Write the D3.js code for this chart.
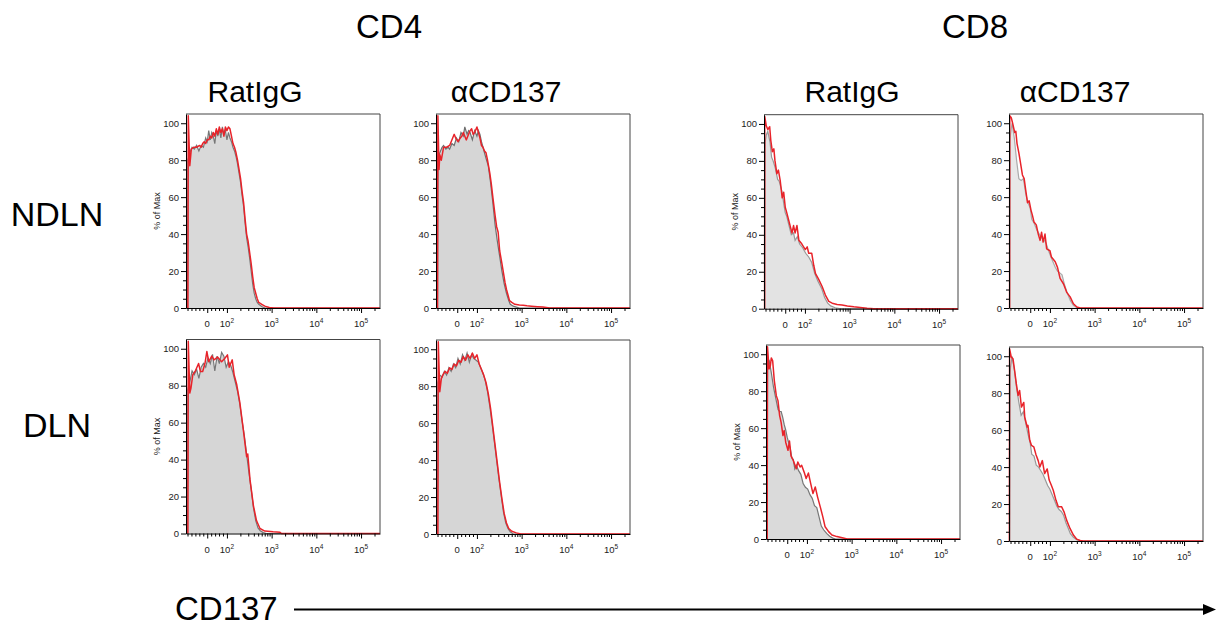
<!DOCTYPE html>
<html lang="en">
<head>
<meta charset="UTF-8">
<title>CD137 histograms</title>
<script src="https://d3js.org/d3.v7.min.js"></script>
<style>
html, body { margin: 0; padding: 0; background: white; }
body { font-family: "Liberation Sans", Arial, sans-serif; }
.big { font-size: 33px; fill: #000; }
.row { font-size: 34px; fill: #000; }
.sub { font-size: 30px; fill: #000; }
.tick text { font-size: 9.5px; fill: #222; font-family: "Liberation Sans", Arial, sans-serif; }
.xlab { font-size: 9.5px; fill: #222; }
.ylab { font-size: 9px; fill: #222; }
</style>
</head>
<body>
<div id="chart"></div>
<script>

// --------------------------------------
// Data
// --------------------------------------

const cellTypes = ["CD4", "CD8"];
const treatments = ["RatIgG", "αCD137"];
const nodes = ["NDLN", "DLN"];

// display channels (FlowJo style, 256 bins across the axis)
const channels = 256;
const yTicks = [0, 20, 40, 60, 80, 100];
const xTickChannels = [28, 54, 113, 172, 231];
const xTickLabels = [["0", ""], ["10", "2"], ["10", "3"], ["10", "4"], ["10", "5"]];

// histograms: [channel, % of max] - ctrl = grey filled, stain = red line
const cd4RatNdlnCtrl = [[2,0],[2.5,80],[5,84],[8,87],[11,86],[14,88],[17,85],[20,88],[23,87],[26,92],[28,90],[30,96],[32,91],[34,95],[36,93],[38,89],[40,96],[42,93],[44,97],[46,92],[48,98],[50,94],[52,96],[54,91],[56,95],[58,92],[60,90],[62,87],[64,85],[66,82],[68,78],[70,73],[72,68],[74,61],[76,55],[78,46],[80,38],[82,33],[84,27],[86,20],[88,13],[90,8],[92,5],[94,3],[96,2],[100,0.8],[104,0]];
const cd4RatNdlnStain = [[2.5,0],[3,104],[5,77],[7,86],[10,87],[14,87],[18,88],[20,87],[22,89],[24,90],[26,89],[28,91],[30,91],[32,93],[34,92],[36,95],[38,93],[40,97],[42,94],[44,98],[46,95],[48,97],[50,93],[52,98],[54,96],[56,98],[58,97],[60,93],[62,89],[64,87],[66,84],[68,80],[70,75],[72,70],[74,63],[76,57],[78,48],[80,40],[82,36],[84,30],[86,24],[88,17],[90,11],[92,8],[94,5],[96,3],[100,2],[104,1],[110,0.3],[116,0]];

const cd4AntiNdlnCtrl = [[2,0],[2.5,82],[5,84],[8,87],[10,88],[13,86],[16,87],[18,86],[21,89],[24,88],[27,92],[30,90],[33,95],[36,93],[38,98],[41,94],[43,96],[45,95],[48,91],[51,96],[54,93],[56,96],[58,94],[60,90],[62,87],[64,84],[66,81],[69,77],[72,68],[75,57],[78,45],[81,36],[84,28],[87,20],[90,13],[93,8],[96,4],[98,2],[102,1],[106,0.5],[110,0]];
const cd4AntiNdlnStain = [[2,0],[2.5,104],[4,75],[5,83],[7,80],[10,87],[14,87],[18,88],[20,90],[22,92],[24,94],[26,92],[29,90],[32,92],[34,93],[36,95],[38,93],[40,91],[43,94],[45,96],[47,97],[49,94],[51,95],[54,98],[56,95],[58,92],[60,88],[62,87],[64,85],[66,84],[68,80],[71,73],[73,67],[75,60],[78,50],[80,44],[82,41],[84,31],[87,24],[89,19],[91,14],[93,10],[95,7],[97,4],[100,3],[104,2],[110,1.6],[115,1.5],[120,1.2],[126,1],[134,0.7],[141,0.5],[150,0]];

const cd8RatNdlnCtrl = [[1,0],[1.5,90],[3,94],[5,96],[8,90],[10,82],[12,80],[15,76],[18,70],[20,69],[22,66],[24,63],[26,57],[28,52],[30,50],[33,45],[36,40],[39,41],[41,37],[44,39],[47,35],[51,33],[55,30],[59,28],[63,25],[67,19],[71,15],[76,11],[80,6],[84,3],[88,1.5],[94,0.5],[100,0]];
const cd8RatNdlnStain = [[0.8,0],[1,104],[3,99],[5,97],[7.5,98.5],[9,91],[11,85],[13,86.5],[14.5,80],[17,73],[19,75],[21.5,69],[24,60],[26,63],[28,55],[30,52],[32.5,48],[35,44],[37,41],[39,45],[41,41],[43.5,45],[46,37],[50,35],[54.5,32],[57,33.5],[59,30],[63,30],[65.6,23.5],[68,19],[72,16],[76.7,12],[81,7.4],[85.5,4],[90,3],[96.5,2.3],[103,2],[110,1.5],[118.5,1],[127,0.7],[136,0.3],[145,0]];

const cd8AntiNdlnCtrl = [[1,0],[1.5,90],[2,94],[4,100],[7,92],[10,80],[13,70],[16,69],[19,70],[22,62],[25,57],[28,54],[30,48],[33,46],[37,42],[40,40],[43,38],[46,37],[49,35],[53,30],[57,26],[61,22],[64,20],[67,19],[70,18],[73,13],[77,8],[81,4],[85,1.5],[89,0.3],[93,0]];
const cd8AntiNdlnStain = [[0.8,0],[1,104],[3,103],[5,99.6],[7.5,95],[9,95.6],[10.6,89],[13,84],[15,79],[17.7,72],[20,70],[22,64],[24.4,57],[26.6,58],[29,53],[31,50],[33,46.5],[36,45],[38.6,40],[41,36.6],[43,41],[45,35.7],[47.5,40],[49.7,32],[54,31],[56,27.6],[61,25],[64,22],[67.4,16],[72,13],[76,8.6],[80.7,6],[85,2.3],[89.6,0.5],[94,0]];

const cd4RatDlnCtrl = [[2,0],[2.5,78],[6,84],[8,88],[11,86],[14,89],[17,84],[20,90],[23,92],[26,90],[29,95],[32,92],[35,97],[38,88],[41,96],[44,92],[47,98],[50,96],[53,90],[56,93],[59,91],[62,87],[65,82],[68,77],[71,70],[74,61],[77,53],[80,43],[83,33],[86,24],[89,14],[92,7],[95,3],[98,1.5],[102,0.5],[106,0]];
const cd4RatDlnStain = [[2.5,0],[3,104],[5,76],[6.5,78.6],[9,86],[12,87.7],[16.6,92],[19,87.7],[22,87.7],[25,92],[27.5,98.5],[30,93],[34,96],[37,94],[41.6,95.5],[47,93],[51.6,95],[54.7,96.7],[57,90],[61,94],[63.5,86],[67,80.5],[71,71],[75.7,56],[80,41.6],[81.5,43],[84.5,29],[89,15],[93,7],[97.6,2.7],[104,1.3],[115,0.9],[124,0.7],[126,0]];

const cd4AntiDlnCtrl = [[2,0],[2.5,82],[5,86],[8,85],[11,88],[14,86],[17,90],[20,88],[23,92],[26,90],[29,95],[32,92],[35,97],[38,94],[41,98],[44,93],[47,97],[50,95],[53,94],[56,93],[59,90],[62,87],[65,83],[68,77],[71,69],[74,60],[77,50],[80,40],[83,30],[86,21],[89,12],[92,6],[95,3],[98,1.2],[102,0]];
const cd4AntiDlnStain = [[2.5,0],[3,104],[5,77],[7,84],[9,86],[12,88],[15,87],[18,90],[21,89],[24,92],[27,91],[30,94],[33,93],[36,96],[39,94],[42,97],[45,95],[48,98],[51,95],[54,97],[57,92],[60,89],[63,86],[66,82],[69,76],[72,68],[75,58],[78,48],[81,38],[84,28],[87,19],[90,11],[93,6],[96,3],[100,1.5],[106,0.6],[112,0]];

const cd8RatDlnCtrl = [[1.5,0],[2,94],[4,97],[7,90],[10,82],[13,76],[16,70],[18,69],[20,69],[22,66],[24,62],[26,59],[28,55],[30,52],[32,49],[34,44],[36,43],[38,38],[40,40],[43,37],[46,35],[49,30],[52,28],[55,27],[58,24],[61,22],[64,18],[67,17],[70,12],[73,7],[76,5],[80,3],[84,1.5],[88,0.5],[92,0]];
const cd8RatDlnStain = [[1.5,0],[2,104],[4,92],[5.7,93.7],[7,98],[8.8,96.4],[11,85.6],[13.6,77.6],[15.8,74.9],[18,66.8],[20,63],[22.4,56],[24,58.7],[26,52.4],[29,48],[31,53],[33,45],[36,42.5],[40,38],[42,41.7],[45,39],[47,39.9],[50.5,36],[53,32.7],[56,35.7],[59,30],[62,24.6],[65,28.2],[68,22.8],[71.6,17.4],[75,12],[78,6.6],[82.6,4],[87,2.2],[93.5,1.3],[102,0.5],[107,0]];

const cd8AntiDlnCtrl = [[1,0],[1.5,90],[2,94],[4,100],[7,93],[10,83],[13,75],[16,68],[19,70],[22,64],[25,58],[28,53],[30,47],[33,46],[36,41],[39,40],[42,38],[45,36],[48,33],[51,30],[54,28],[57,25],[60,22],[63,19],[66,17],[69,16],[72,14],[75,10],[78,7],[81,4],[85,2],[90,0.5],[94,0]];
const cd8AntiDlnStain = [[0.5,0],[0.8,104],[3,99.5],[5.3,98.6],[7.5,92],[9.7,85],[12,78.8],[14,81.5],[16.4,72.5],[19.5,75],[20.8,67],[24,61.7],[25,62.6],[27.4,54.5],[29.6,51.8],[32.7,51],[35.4,47],[38.5,43.5],[40.7,40],[44,43.5],[47,36.5],[50.4,39],[53,33],[56,30],[58.4,27.5],[62,22],[65,18.5],[69.5,18.5],[72.6,15.8],[76,11.3],[80.5,6.8],[85,3.2],[89.4,1],[94,0.3],[98,0]];

// --------------------------------------
// Layout
// --------------------------------------

let totalWidth = 1216;
let totalHeight = 626;
let pw = 194, ph = 194;

let panels = [
  {x: 186,  y: 114,   ctrl: cd4RatNdlnCtrl,  stain: cd4RatNdlnStain,  yTitle: true,  fill: "#d9d9d9", edge: "#777"},
  {x: 436,  y: 114,   ctrl: cd4AntiNdlnCtrl, stain: cd4AntiNdlnStain, yTitle: false, fill: "#d6d6d6", edge: "#6e6e6e"},
  {x: 764,  y: 114.7, ctrl: cd8RatNdlnCtrl,  stain: cd8RatNdlnStain,  yTitle: true,  fill: "#e3e3e3", edge: "#999"},
  {x: 1009, y: 114,   ctrl: cd8AntiNdlnCtrl, stain: cd8AntiNdlnStain, yTitle: false, fill: "#e8e8e8", edge: "#aaa"},
  {x: 186,  y: 339.5, ctrl: cd4RatDlnCtrl,   stain: cd4RatDlnStain,   yTitle: true,  fill: "#d6d6d6", edge: "#777"},
  {x: 436,  y: 340,   ctrl: cd4AntiDlnCtrl,  stain: cd4AntiDlnStain,  yTitle: false, fill: "#d6d6d6", edge: "#777"},
  {x: 766,  y: 345,   ctrl: cd8RatDlnCtrl,   stain: cd8RatDlnStain,   yTitle: true,  fill: "#dadada", edge: "#777"},
  {x: 1009, y: 347,   ctrl: cd8AntiDlnCtrl,  stain: cd8AntiDlnStain,  yTitle: false, fill: "#e2e2e2", edge: "#999"}
];

// header centres for the four columns
let headerX = [255, 506, 852, 1075];

let svg = d3.select("#chart")
  .append("svg")
  .attr("width", totalWidth)
  .attr("height", totalHeight)
  .style("font-family", '"Liberation Sans", Arial, sans-serif');

// --------------------------------------
// Scales
// --------------------------------------

let x = d3.scaleLinear().domain([0, channels]).range([0, pw]);
let y = d3.scaleLinear().domain([0, 105]).range([ph, 0]);

// minor ticks: log decades above 100, linear near zero
let logCh = d3.scaleLog().domain([100, 1e5]).range([xTickChannels[1], xTickChannels[4]]);
let linCh = d3.scaleLinear().domain([0, 100]).range([xTickChannels[0], xTickChannels[1]]);
let minorCh = [];
[-100, -80, -60, -40, -20, 20, 40, 60, 80].forEach(v => minorCh.push(linCh(v)));
[100, 1000, 10000, 100000].forEach(dec => {
  for (let m = 2; m <= 9; m++) {
    let c = logCh(dec * m);
    if (c < channels) minorCh.push(c);
  }
});

let area = d3.area().x(d => x(d[0])).y0(ph).y1(d => y(d[1]));
let line = d3.line().x(d => x(d[0])).y(d => y(d[1]));

// --------------------------------------
// Panels
// --------------------------------------

panels.forEach((p, i) => {
  let g = svg.append("g").attr("transform", `translate(${p.x},${p.y})`);
  let ctrl = p.ctrl.concat([[channels, 0]]);
  let stain = p.stain.concat([[channels, 0]]);

  g.append("path").datum(ctrl).attr("d", area).attr("fill", p.fill);
  g.append("path").datum(ctrl).attr("d", line).attr("fill", "none")
    .attr("stroke", p.edge).attr("stroke-width", 1.2);
  g.append("path").datum(stain).attr("d", line).attr("fill", "none")
    .attr("stroke", "#e8232a").attr("stroke-width", 1.5).attr("stroke-linejoin", "round");

  // frame (top/right)
  g.append("path")
    .attr("d", `M0,0H${pw}V${ph}`)
    .attr("fill", "none").attr("stroke", "#444").attr("stroke-width", 1);

  // y axis
  g.append("g")
    .call(d3.axisLeft(y).tickValues(d3.range(5, 105, 5).filter(v => v % 20)).tickSize(3).tickFormat(""))
    .call(a => a.select(".domain").remove());
  g.append("g")
    .call(d3.axisLeft(y).tickValues(yTicks).tickSize(5).tickPadding(2).tickSizeOuter(0))
    .call(a => a.select(".domain").attr("stroke", "#000"));

  // x axis
  let xa = g.append("g").attr("transform", `translate(0,${ph})`);
  xa.call(d3.axisBottom(x).tickValues(minorCh).tickSize(3).tickFormat(""))
    .call(a => a.select(".domain").remove());
  xa.append("g")
    .call(d3.axisBottom(x).tickValues(xTickChannels).tickSize(5).tickSizeOuter(0).tickFormat(""))
    .call(a => a.select(".domain").attr("stroke", "#000"));

  let lab = xa.selectAll(".xlab")
    .data(xTickChannels)
    .join("text")
    .attr("class", "xlab")
    .attr("x", d => x(d))
    .attr("y", 19)
    .attr("text-anchor", "middle");
  lab.append("tspan").text((d, k) => xTickLabels[k][0]);
  lab.append("tspan").attr("dy", -4).style("font-size", "6.5px").text((d, k) => xTickLabels[k][1]);

  if (p.yTitle) {
    g.append("text")
      .attr("class", "ylab")
      .attr("transform", `translate(-26,${ph / 2}) rotate(-90)`)
      .attr("text-anchor", "middle")
      .text("% of Max");
  }
});

// --------------------------------------
// Titles
// --------------------------------------

svg.selectAll(".celltitle")
  .data(cellTypes)
  .join("text")
  .attr("class", "big celltitle")
  .attr("x", (d, i) => [389, 975][i])
  .attr("y", 38)
  .attr("text-anchor", "middle")
  .text(d => d);

svg.selectAll(".treat")
  .data(headerX)
  .join("text")
  .attr("class", "sub treat")
  .attr("x", d => d)
  .attr("y", 102)
  .attr("text-anchor", "middle")
  .text((d, i) => treatments[i % 2]);

svg.selectAll(".node")
  .data(nodes)
  .join("text")
  .attr("class", "row node")
  .attr("x", 57)
  .attr("y", (d, i) => [226, 437][i])
  .attr("text-anchor", "middle")
  .text(d => d);

// CD137 arrow
svg.append("text")
  .attr("class", "big")
  .attr("x", 175)
  .attr("y", 620)
  .text("CD137");

svg.append("line")
  .attr("x1", 294).attr("x2", 1205)
  .attr("y1", 609.5).attr("y2", 609.5)
  .attr("stroke", "#000").attr("stroke-width", 2);

svg.append("path")
  .attr("d", "M1203,604L1216,609.5L1203,615Z")
  .attr("fill", "#000");

</script>
</body>
</html>
